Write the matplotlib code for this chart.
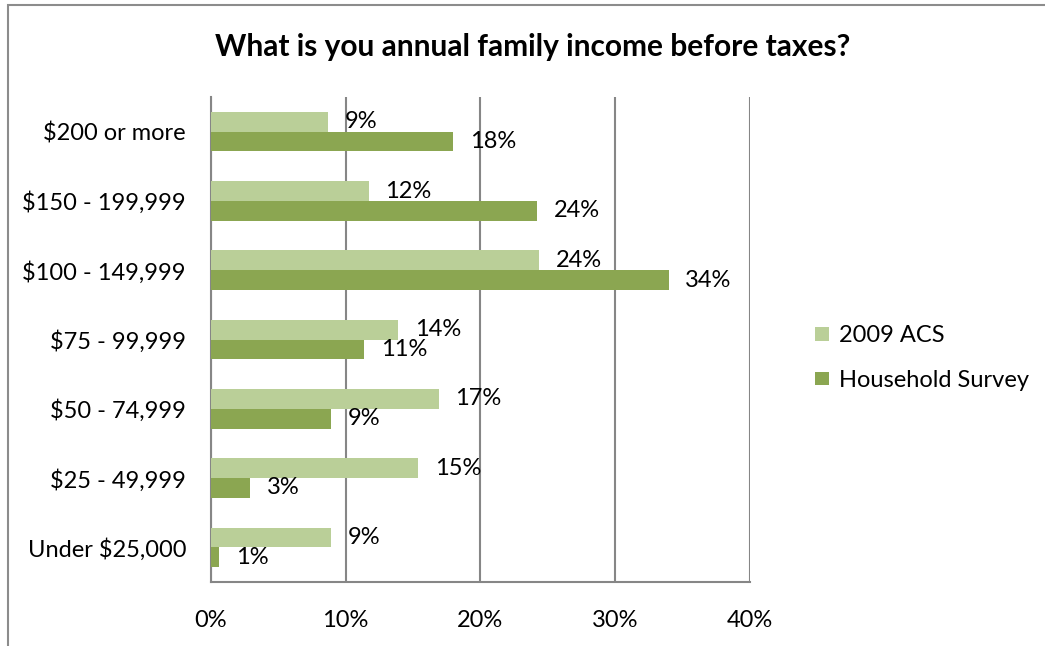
import matplotlib.pyplot as plt
from matplotlib.patches import Rectangle
import numpy as np

# income brackets, bottom to top as drawn
categories = ["Under $25,000", "$25 - 49,999", "$50 - 74,999", "$75 - 99,999",
              "$100 - 149,999", "$150 - 199,999", "$200 or more"]
acs_2009 = [8.9, 15.4, 16.9, 13.9, 24.4, 11.7, 8.7]
household = [0.6, 2.9, 8.9, 11.4, 34.0, 24.2, 18.0]
x_ticks = [0, 10, 20, 30, 40]
x_labels = ["0%", "10%", "20%", "30%", "40%"]

plt.rcParams['font.family'] = ['Lato', 'DejaVu Sans']

W, H = 1045, 646
fig = plt.figure(figsize=(W / 100, H / 100), dpi=100)
fig.patch.set_facecolor('white')

# chart border (runs off the right/bottom edge)
fig.add_artist(Rectangle((7.5 / W, -0.5), 2, 1.5 - 4.5 / H, transform=fig.transFigure,
                         fill=False, edgecolor='#8c8c8c', linewidth=1.5))

ax = fig.add_axes([211 / W, 1 - 582 / H, (749.5 - 211) / W, (582 - 97) / H])

y = np.arange(len(categories))
h = 0.285
b1 = ax.barh(y + h / 2, acs_2009, height=h, color='#BACF98', label='2009 ACS', zorder=3)
b2 = ax.barh(y - h / 2, household, height=h, color='#8BA651', label='Household Survey', zorder=3)

for bars in (b1, b2):
    ax.bar_label(bars, labels=[f"{v:.0f}%" for v in bars.datavalues], padding=12,
                 fontsize=17, color='black')

ax.set_xlim(0, 40)
ax.set_ylim(-0.5, len(categories) - 0.5)
ax.set_xticks(x_ticks)
ax.set_xticklabels(x_labels)
ax.set_yticks(y)
ax.set_yticklabels(categories)
ax.tick_params(axis='both', length=0, labelsize=17)
ax.tick_params(axis='y', pad=18)
ax.tick_params(axis='x', pad=20)

ax.grid(axis='x', color='#868686', linewidth=1.5, zorder=1)
for side in ('top', 'right'):
    ax.spines[side].set_visible(False)
for side in ('left', 'bottom'):
    ax.spines[side].set_color('#868686')
    ax.spines[side].set_linewidth(1.5)

fig.text(533 / W, 1 - 47 / H, "What is you annual family income before taxes?",
         ha='center', va='center', fontsize=21.5, fontweight='bold')

fig.legend(handles=[b1, b2], loc='center left', bbox_to_anchor=(794 / W, 1 - 358 / H),
           frameon=False, fontsize=17, handlelength=0.6, handleheight=0.5,
           handletextpad=0.4, labelspacing=1.0)

fig.savefig('out.png', dpi=100)
